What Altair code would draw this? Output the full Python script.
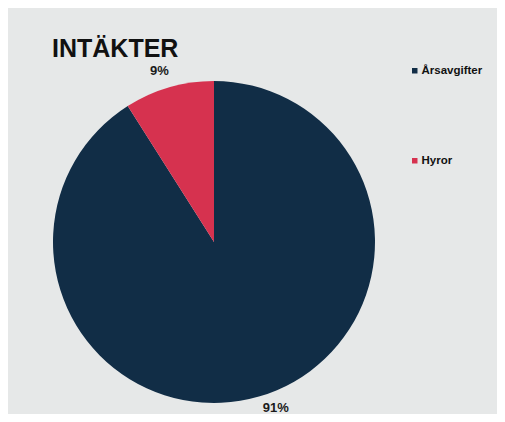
import altair as alt
import pandas as pd

categories = ["Årsavgifter", "Hyror"]
values = [91, 9]
labels = ["91%", "9%"]
colors = ["#112d46", "#d6324f"]

df = pd.DataFrame({"kategori": categories, "andel": values, "etikett": labels,
                   "ordning": [0, 1]})

W, H = 489, 406
CX, CY, R = 206, 234, 161

base = alt.Chart(df).encode(
    theta=alt.Theta("andel:Q", stack=True),
    order=alt.Order("ordning:O"),
)

pie = base.mark_arc(radius=R, stroke=None).encode(
    x=alt.value(CX), y=alt.value(CY),
    color=alt.Color(
        "kategori:N",
        scale=alt.Scale(domain=categories, range=colors),
        sort=categories,
        legend=alt.Legend(
            title=None, orient="none", legendX=401, legendY=57,
            symbolType="square", symbolSize=30, symbolStrokeWidth=0,
            labelFont="Liberation Sans", labelFontWeight="bold",
            labelFontSize=11.5, labelColor="#111111", rowPadding=77,
            labelOffset=1,
        ),
    ),
)

txt_style = dict(font="Liberation Sans", fontWeight="bold", fontSize=13,
                 color="#1a1a1a")
txt_big = base.mark_text(radius=171, dx=14, dy=2, **txt_style).encode(
    x=alt.value(CX), y=alt.value(CY),
    text=alt.condition("datum.kategori == 'Årsavgifter'", "etikett:N", alt.value("")),
)
txt_small = base.mark_text(radius=178, dx=-5, **txt_style).encode(
    x=alt.value(CX), y=alt.value(CY),
    text=alt.condition("datum.kategori == 'Hyror'", "etikett:N", alt.value("")),
)

title = alt.Chart(pd.DataFrame({"t": ["INTÄKTER"]})).mark_text(
    font="Liberation Sans", fontWeight="bold", fontSize=25,
    align="left", baseline="alphabetic", color="#111111"
).encode(x=alt.value(44), y=alt.value(49), text="t:N")

chart = alt.layer(pie, txt_big, txt_small, title).properties(
    width=W, height=H,
    autosize=alt.AutoSizeParams(type="fit", contains="padding"),
    padding=0,
    background="#e6e8e8",
).configure_view(stroke=None)

chart.save("out.html", embed_options={"renderer": "svg", "actions": False})
